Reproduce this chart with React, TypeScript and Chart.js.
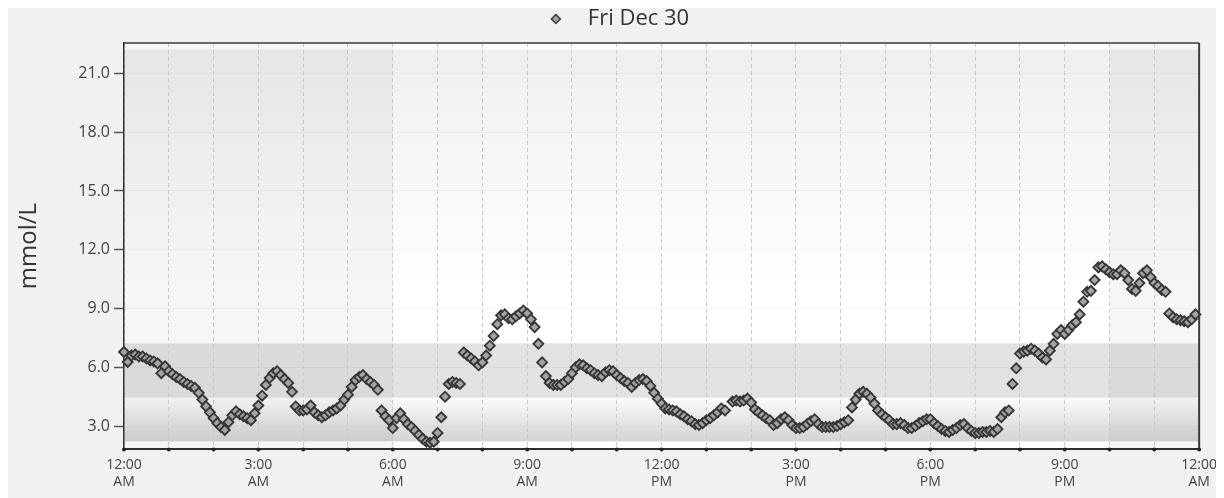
import { useEffect, useRef } from 'react';
import { Chart, registerables } from 'chart.js';

Chart.register(...registerables);

const FONT = '"Open Sans", "Noto Sans", sans-serif';

const SERIES_LABEL = 'Fri Dec 30';
const Y_TITLE = 'mmol/L';

// Minutes after midnight of each sensor reading
const TIME_MIN = [
  0, 5, 10, 15, 20, 25, 30, 35, 40, 45, 50, 55,
  60, 65, 70, 75, 80, 85, 90, 95, 100, 105, 110, 115,
  120, 125, 130, 135, 140, 145, 150, 155, 160, 165, 170, 175,
  180, 185, 190, 195, 200, 205, 210, 215, 220, 225, 230, 235,
  240, 245, 250, 255, 260, 265, 270, 275, 280, 285, 290, 295,
  300, 305, 310, 315, 320, 325, 330, 335, 340, 345, 350, 355,
  360, 365, 370, 375, 380, 385, 390, 395, 400, 405, 410, 415,
  420, 425, 430, 435, 440, 445, 450, 455, 460, 465, 470, 475,
  480, 485, 490, 495, 500, 505, 510, 515, 520, 525, 530, 535,
  540, 545, 550, 555, 560, 565, 570, 575, 580, 585, 590, 595,
  600, 605, 610, 615, 620, 625, 630, 635, 640, 645, 650, 655,
  660, 665, 670, 675, 680, 685, 690, 695, 700, 705, 710, 715,
  720, 725, 730, 735, 740, 745, 750, 755, 760, 765, 770, 775,
  780, 785, 790, 795, 800, 805, 815, 820, 825, 830, 835,
  840, 845, 850, 855, 860, 865, 870, 875, 880, 885, 890, 895,
  900, 905, 910, 915, 920, 925, 930, 935, 940, 945, 950, 955,
  960, 965, 970, 975, 980, 985, 990, 995, 1000, 1005, 1010, 1015,
  1020, 1025, 1030, 1035, 1040, 1045, 1050, 1055, 1060, 1065, 1070, 1075,
  1080, 1085, 1090, 1095, 1100, 1105, 1110, 1115, 1120, 1125, 1130, 1135,
  1140, 1145, 1150, 1155, 1160, 1165, 1170, 1175, 1180, 1185, 1190, 1195,
  1200, 1205, 1210, 1215, 1220, 1225, 1230, 1235, 1240, 1245, 1250, 1255,
  1260, 1265, 1270, 1275, 1280, 1285, 1290, 1295, 1300, 1305, 1310, 1315,
  1320, 1325, 1330, 1335, 1340, 1345, 1350, 1355, 1360, 1365, 1370, 1375,
  1380, 1385, 1390, 1395, 1400, 1405, 1410, 1415, 1420, 1425, 1430, 1435,
];

// Glucose, mmol/L
const GLUCOSE = [
  6.78, 6.27, 6.6, 6.65, 6.55, 6.55, 6.45, 6.35, 6.3, 6.2, 5.7, 6.05,
  5.8, 5.65, 5.5, 5.4, 5.25, 5.15, 5.05, 4.95, 4.7, 4.35, 4.0, 3.7,
  3.4, 3.15, 2.95, 2.8, 3.2, 3.55, 3.75, 3.6, 3.5, 3.4, 3.3, 3.65,
  4.05, 4.55, 5.1, 5.45, 5.7, 5.8, 5.6, 5.4, 5.2, 4.75, 4.0, 3.8,
  3.8, 3.85, 4.05, 3.7, 3.55, 3.45, 3.55, 3.7, 3.8, 3.9, 4.05, 4.35,
  4.6, 5.0, 5.35, 5.5, 5.6, 5.4, 5.25, 5.1, 4.85, 3.8, 3.5, 3.3,
  2.9, 3.4, 3.65, 3.35, 3.1, 2.95, 2.75, 2.55, 2.35, 2.2, 2.15, 2.2,
  2.65, 3.45, 4.5, 5.15, 5.25, 5.2, 5.15, 6.75, 6.6, 6.45, 6.3, 6.1,
  6.25, 6.6, 7.1, 7.6, 8.2, 8.65, 8.7, 8.5, 8.45, 8.6, 8.75, 8.9,
  8.75, 8.45, 8.05, 7.2, 6.25, 5.55, 5.2, 5.1, 5.1, 5.1, 5.25, 5.4,
  5.7, 6.0, 6.15, 6.1, 5.95, 5.85, 5.7, 5.6, 5.55, 5.75, 5.85, 5.8,
  5.6, 5.45, 5.3, 5.2, 5.0, 5.2, 5.35, 5.4, 5.3, 5.05, 4.7, 4.4,
  4.15, 3.9, 3.85, 3.8, 3.75, 3.6, 3.5, 3.35, 3.25, 3.1, 3.05, 3.15,
  3.3, 3.4, 3.55, 3.7, 3.9, 3.8, 4.25, 4.3, 4.25, 4.3, 4.4,
  4.2, 3.85, 3.7, 3.55, 3.4, 3.3, 3.05, 3.15, 3.35, 3.45, 3.3, 3.05,
  2.9, 2.9, 2.95, 3.1, 3.25, 3.35, 3.1, 2.95, 2.95, 2.95, 2.95, 3.0,
  3.1, 3.2, 3.3, 3.95, 4.35, 4.65, 4.75, 4.65, 4.45, 4.15, 3.8, 3.6,
  3.45, 3.3, 3.1, 3.1, 3.15, 3.05, 2.9, 2.9, 3.0, 3.15, 3.25, 3.35,
  3.35, 3.15, 3.0, 2.85, 2.75, 2.7, 2.8, 2.9, 3.05, 3.1, 2.9, 2.75,
  2.65, 2.65, 2.7, 2.7, 2.75, 2.7, 2.85, 3.45, 3.7, 3.8, 5.15, 5.95,
  6.7, 6.8, 6.85, 6.95, 6.85, 6.7, 6.5, 6.4, 6.85, 7.2, 7.7, 7.9,
  7.7, 7.9, 8.15, 8.3, 8.7, 9.35, 9.85, 9.9, 10.45, 11.1, 11.15, 11.0,
  10.85, 10.75, 10.75, 10.95, 10.8, 10.45, 10.0, 9.9, 10.3, 10.8, 10.95, 10.6,
  10.3, 10.15, 9.95, 9.85, 8.75, 8.55, 8.45, 8.4, 8.35, 8.3, 8.45, 8.7,
];

const Y_TICKS = [3, 6, 9, 12, 15, 18, 21];
const HOUR_TICKS = [
  0, 60, 120, 180, 240, 300, 360, 420, 480, 540, 600, 660, 720,
  780, 840, 900, 960, 1020, 1080, 1140, 1200, 1260, 1320, 1380, 1440,
];
const X_LABEL_TICKS = [0, 180, 360, 540, 720, 900, 1080, 1260, 1440];
const X_LABELS = [
  ['12:00', 'AM'], ['3:00', 'AM'], ['6:00', 'AM'], ['9:00', 'AM'], ['12:00', 'PM'],
  ['3:00', 'PM'], ['6:00', 'PM'], ['9:00', 'PM'], ['12:00', 'AM'],
];

const Y_MIN = 1.83;
const Y_MAX = 22.55;
const TARGET_LOW = 4.44;
const TARGET_HIGH = 7.22;
const SHADE_LOW = 2.22;
const SHADE_HIGH = 22.22;
const NIGHT_RANGES = [[0, 360], [1320, 1440]];

const POINT_FILL = '#a3a3a3';
const POINT_BORDER = '#353535';

const backgroundPlugin = {
  id: 'glucoseBackground',
  beforeDraw(chart: any) {
    const { ctx, chartArea: a, scales } = chart;
    const x = scales.x;
    const y = scales.y;
    ctx.save();
    ctx.fillStyle = '#f1f1f1';
    ctx.fillRect(0, 0, chart.width, chart.height);
    ctx.fillStyle = '#ffffff';
    ctx.fillRect(a.left, a.top, a.width, a.height);
    const yTop = y.getPixelForValue(SHADE_HIGH);
    const yHi = y.getPixelForValue(TARGET_HIGH);
    const yLo = y.getPixelForValue(TARGET_LOW);
    const yBot = y.getPixelForValue(SHADE_LOW);
    let g = ctx.createLinearGradient(0, yTop, 0, yHi);
    g.addColorStop(0, '#efefef');
    g.addColorStop(0.8, '#ffffff');
    g.addColorStop(1, '#ffffff');
    ctx.fillStyle = g;
    ctx.fillRect(a.left, yTop, a.width, yHi - yTop);
    ctx.fillStyle = '#e2e2e3';
    ctx.fillRect(a.left, yHi, a.width, yLo - yHi);
    g = ctx.createLinearGradient(0, yLo, 0, yBot);
    g.addColorStop(0, '#fbfbfb');
    g.addColorStop(1, '#d3d3d3');
    ctx.fillStyle = g;
    ctx.fillRect(a.left, yLo, a.width, yBot - yLo);
    ctx.fillStyle = 'rgba(0,0,0,0.035)';
    for (const [s, e] of NIGHT_RANGES) {
      const x0 = x.getPixelForValue(s);
      const x1 = x.getPixelForValue(e);
      ctx.fillRect(x0, a.top, x1 - x0, a.height);
    }
    ctx.restore();
  },
};

const framePlugin = {
  id: 'glucoseFrame',
  beforeLayout(chart: any) {
    const lg = chart.legend;
    if (lg && !lg.__spaced) {
      const f = lg.fit;
      lg.fit = function () {
        f.call(this);
        this.height += 3;
      };
      lg.__spaced = true;
    }
  },
  afterLayout(chart: any) {
    const lg = chart.legend;
    if (lg) lg.left += 16;
  },
  afterDraw(chart: any) {
    const { ctx, chartArea: a, scales } = chart;
    ctx.save();
    ctx.strokeStyle = '#3a3a3a';
    ctx.lineWidth = 1.5;
    ctx.beginPath();
    ctx.moveTo(a.left, a.top);
    ctx.lineTo(a.right, a.top);
    ctx.stroke();
    ctx.lineWidth = 2;
    ctx.beginPath();
    ctx.moveTo(a.right, a.top);
    ctx.lineTo(a.right, a.bottom);
    ctx.stroke();
    ctx.fillStyle = '#222';
    for (const t of scales.x.ticks) {
      const px = scales.x.getPixelForValue(t.value);
      ctx.beginPath();
      ctx.arc(px, a.bottom + 0.5, 2, 0, Math.PI * 2);
      ctx.fill();
    }
    ctx.restore();
  },
};

export default function App() {
  const ref = useRef<HTMLCanvasElement>(null);

  useEffect(() => {
    document.documentElement.style.overflow = 'hidden';
    document.body.style.overflow = 'hidden';
    const canvas = ref.current;
    if (!canvas) return;

    const icon = document.createElement('canvas');
    icon.width = 12;
    icon.height = 12;
    const ic = icon.getContext('2d');
    if (ic) {
      ic.beginPath();
      ic.moveTo(6, 1.5);
      ic.lineTo(10.5, 6);
      ic.lineTo(6, 10.5);
      ic.lineTo(1.5, 6);
      ic.closePath();
      ic.fillStyle = POINT_FILL;
      ic.fill();
      ic.lineWidth = 1.5;
      ic.strokeStyle = POINT_BORDER;
      ic.stroke();
    }

    const chart = new Chart(canvas, {
      type: 'scatter',
      data: {
        datasets: [
          {
            label: SERIES_LABEL,
            data: TIME_MIN.map((t, i) => ({ x: t, y: GLUCOSE[i] })),
            showLine: false,
            pointStyle: 'rectRot',
            pointRadius: 5,
            pointBackgroundColor: POINT_FILL,
            pointBorderColor: POINT_BORDER,
            pointBorderWidth: 1.8,
            clip: false as any,
          },
        ],
      },
      options: {
        responsive: false,
        devicePixelRatio: 1,
        animation: false,
        events: [],
        layout: { padding: { top: 0, right: 24, bottom: 0, left: 0 } },
        plugins: {
          tooltip: { enabled: false },
          legend: {
            position: 'top',
            align: 'center',
            labels: {
              usePointStyle: true,
              pointStyleWidth: 42,
              boxHeight: 9,
              padding: 0,
              color: '#333',
              font: { size: 22, family: FONT },
              generateLabels: () => [
                {
                  text: SERIES_LABEL,
                  pointStyle: icon as any,
                  fillStyle: POINT_FILL,
                  strokeStyle: POINT_BORDER,
                  lineWidth: 1.5,
                  hidden: false,
                  datasetIndex: 0,
                  fontColor: '#333',
                } as any,
              ],
            },
          },
        },
        scales: {
          x: {
            type: 'linear',
            min: 0,
            max: 1440,
            afterBuildTicks: (s: any) => {
              s.ticks = HOUR_TICKS.map((v) => ({ value: v }));
            },
            ticks: {
              autoSkip: false,
              maxRotation: 0,
              color: '#444',
              padding: 7,
              font: { size: 14, family: FONT, lineHeight: 1.25 },
              callback: (v: any) => {
                const i = X_LABEL_TICKS.indexOf(Number(v));
                return i >= 0 ? X_LABELS[i] : '';
              },
            },
            grid: { color: '#c9c9c9', lineWidth: 1, drawTicks: false },
            border: { display: true, color: '#2e2e2e', width: 2, dash: [4, 3] },
          },
          y: {
            min: Y_MIN,
            max: Y_MAX,
            afterBuildTicks: (s: any) => {
              s.ticks = Y_TICKS.map((v) => ({ value: v }));
            },
            afterFit: (s: any) => {
              s.width = 116;
            },
            ticks: {
              color: '#444',
              padding: 4,
              font: { size: 16, family: FONT },
              callback: (v: any) => Number(v).toFixed(1),
            },
            grid: {
              color: 'rgba(0,0,0,0.035)',
              tickColor: '#555',
              tickLength: 10,
              tickWidth: 1.5,
            },
            border: { display: true, color: '#333', width: 1.5 },
            title: {
              display: true,
              text: Y_TITLE,
              color: '#333',
              font: { size: 24, family: FONT, lineHeight: 1.2 },
              padding: { top: 7, bottom: 0 },
            },
          },
        },
      },
      plugins: [backgroundPlugin, framePlugin],
    });

    return () => chart.destroy();
  }, []);

  return (
    <div style={{ width: 1216, height: 490 }}>
      <canvas ref={ref} width={1216} height={490} style={{ display: 'block', width: 1216, height: 490 }} />
    </div>
  );
}
